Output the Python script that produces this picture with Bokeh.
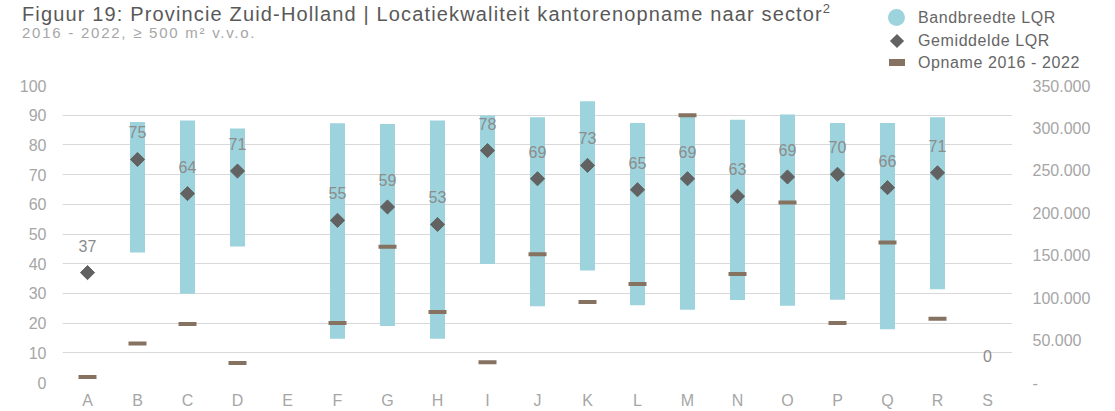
import numpy as np
from bokeh.plotting import figure
from bokeh.layouts import column
from bokeh.models import (ColumnDataSource, FactorRange, Range1d, LinearAxis,
                          SingleIntervalTicker, CustomJSTickFormatter, Div)
from bokeh.core.properties import value
from bokeh.embed import file_html
from bokeh.resources import INLINE

# ---------------- data ----------------
categories = ["A", "B", "C", "D", "E", "F", "G", "H", "I", "J",
              "K", "L", "M", "N", "O", "P", "Q", "R", "S"]
lqr_min = [None, 43.8, 29.9, 45.8, None, 14.7, 19.0, 14.7, 39.9, 25.7,
           37.7, 26.0, 24.5, 27.8, 25.8, 27.9, 17.9, 31.4, None]
lqr_max = [None, 87.7, 88.2, 85.5, None, 87.3, 87.0, 88.2, 89.9, 89.3,
           94.7, 87.4, 89.6, 88.5, 90.2, 87.4, 87.4, 89.3, None]
lqr_mean = [37.0, 75.1, 63.6, 71.2, None, 54.6, 59.1, 53.2, 78.1, 68.6,
            73.1, 64.9, 68.6, 62.7, 69.2, 70.1, 65.6, 70.6, 0.0]
opname = [6500, 46000, 69000, 23000, None, 70000, 160000, 83000, 24000, 151000,
          95000, 116000, 315000, 128000, 212000, 70000, 165000, 75000, None]

left_ticks_interval = 10
right_ticks_interval = 50000
right_max = 350000

title_text = "Figuur 19: Provincie Zuid-Holland | Locatiekwaliteit kantorenopname naar sector"
title_sup = "2"
subtitle_text = "2016 - 2022, ≥ 500 m² v.v.o."
legend_labels = ["Bandbreedte LQR", "Gemiddelde LQR", "Opname 2016 - 2022"]

# ---------------- colours / fonts ----------------
FONT = "Liberation Sans"
BAR_C = "#9DD3DC"
DIA_C = "#626262"
OPN_C = "#857260"
TICK_C = "#a6a6a6"

# ---------------- sources ----------------
bar_idx = [i for i in range(len(categories)) if lqr_min[i] is not None]
bar_src = ColumnDataSource(dict(
    x=[categories[i] for i in bar_idx],
    bottom=[lqr_min[i] for i in bar_idx],
    top=[lqr_max[i] for i in bar_idx]))

dia_idx = [i for i in range(len(categories)) if lqr_mean[i]]
dia_src = ColumnDataSource(dict(
    x=[categories[i] for i in dia_idx],
    y=[lqr_mean[i] for i in dia_idx]))

lab_idx = [i for i in range(len(categories)) if lqr_mean[i] is not None]
lab_src = ColumnDataSource(dict(
    x=[categories[i] for i in lab_idx],
    y=[lqr_mean[i] for i in lab_idx],
    t=[f"{lqr_mean[i]:.0f}" for i in lab_idx]))

opn_idx = [i for i in range(len(categories)) if opname[i] is not None]
opn_src = ColumnDataSource(dict(
    x=[categories[i] for i in opn_idx],
    y=[opname[i] for i in opn_idx]))

# ---------------- header: title + legend ----------------
HEAD_H = 75


def txt(text, left, top, size, color, spacing):
    return (f'<div style="position:absolute;left:{left}px;top:{top}px;'
            f'font-size:{size}px;line-height:1;color:{color};'
            f'letter-spacing:{spacing}px;white-space:nowrap;">{text}</div>')


header_html = (
    f'<div style="position:relative;width:1115px;height:{HEAD_H}px;'
    f'font-family:\'{FONT}\';overflow:visible;">'
    + txt(title_text + f'<sup style="font-size:0.65em;line-height:0;'
          f'vertical-align:0.6em;">{title_sup}</sup>', 22, 4, 20, "#595959", 1.15)
    + txt(subtitle_text, 22, 25, 15, TICK_C, 1.75)
    # legend markers
    + f'<div style="position:absolute;left:888px;top:9px;width:17px;height:17px;'
      f'border-radius:50%;background:{BAR_C};"></div>'
    + f'<div style="position:absolute;left:892px;top:35.5px;width:10px;height:10px;'
      f'background:{DIA_C};transform:rotate(45deg);"></div>'
    + f'<div style="position:absolute;left:889px;top:58.5px;width:16px;height:7px;'
      f'background:{OPN_C};"></div>'
    + txt(legend_labels[0], 918, 9.5, 16, "#666666", 0.6)
    + txt(legend_labels[1], 918, 32.5, 16, "#666666", 0.6)
    + txt(legend_labels[2], 918, 54.5, 16, "#666666", 0.6)
    + '</div>'
)
head = Div(text=header_html, width=1115, height=HEAD_H, margin=(0, 0, 0, 0))

# ---------------- main chart ----------------
p = figure(width=1115, height=411 - HEAD_H, output_backend="svg", toolbar_location=None,
           x_range=FactorRange(*categories, range_padding=0),
           y_range=Range1d(0, 100),
           min_border_left=62, min_border_right=103,
           min_border_top=85 - HEAD_H, min_border_bottom=29)
p.outline_line_color = None
p.extra_y_ranges = {"opn": Range1d(0, right_max)}

p.vbar(x="x", bottom="bottom", top="top", width=0.3, source=bar_src,
       fill_color=BAR_C, line_color=None)
p.scatter(x="x", y="y", source=opn_src, marker="dash", size=18,
          line_color=OPN_C, line_width=4, y_range_name="opn")
p.scatter(x="x", y="y", source=dia_src, marker="square", size=10,
          angle=np.pi / 4, fill_color=DIA_C, line_color=DIA_C)
p.text(x="x", y="y", text="t", source=lab_src, text_align="center",
       text_baseline="middle", y_offset=-27, text_color="#8c8c8c",
       text_font=value(FONT), text_font_size="16px")

p.xaxis.major_label_text_font = FONT
p.xaxis.major_label_text_font_size = "16px"
p.xaxis.major_label_text_color = TICK_C
p.xaxis.major_label_standoff = 9
p.xaxis.axis_line_color = None
p.xaxis.major_tick_line_color = None
p.xaxis.major_tick_out = 0
p.xaxis.major_tick_in = 0
p.xgrid.grid_line_color = None

p.yaxis.ticker = SingleIntervalTicker(interval=left_ticks_interval)
p.yaxis.major_label_text_font = FONT
p.yaxis.major_label_text_font_size = "16px"
p.yaxis.major_label_text_color = TICK_C
p.yaxis.major_label_standoff = 16
p.yaxis.axis_line_color = None
p.yaxis.major_tick_line_color = None
p.yaxis.minor_tick_line_color = None
p.yaxis.major_tick_out = 0
p.yaxis.major_tick_in = 0
p.yaxis.minor_tick_out = 0
p.ygrid.ticker = SingleIntervalTicker(interval=left_ticks_interval)
p.ygrid.grid_line_color = "#d9d9d9"
p.ygrid.grid_line_width = 1

ax_r = LinearAxis(y_range_name="opn",
                  ticker=SingleIntervalTicker(interval=right_ticks_interval),
                  formatter=CustomJSTickFormatter(
                      code="return tick == 0 ? '-' : (tick/1000).toFixed(0) + '.000';"))
ax_r.major_label_text_font = FONT
ax_r.major_label_text_font_size = "16px"
ax_r.major_label_text_color = TICK_C
ax_r.major_label_standoff = 20
ax_r.axis_line_color = None
ax_r.major_tick_line_color = None
ax_r.minor_tick_line_color = None
ax_r.major_tick_out = 0
ax_r.major_tick_in = 0
ax_r.minor_tick_out = 0
p.add_layout(ax_r, "right")

layout = column(head, p, spacing=0)
with open("out.html", "w", encoding="utf-8") as f:
    f.write(file_html(layout, INLINE))
